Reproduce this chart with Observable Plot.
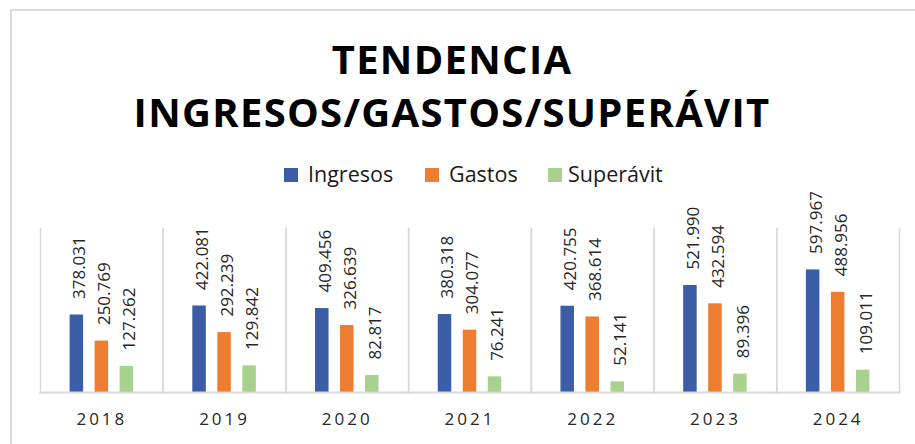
<!DOCTYPE html>
<html><head><meta charset="utf-8">
<script src="https://cdn.jsdelivr.net/npm/d3@7"></script>
<script src="https://cdn.jsdelivr.net/npm/@observablehq/plot@0.6"></script>
<style>
html,body{margin:0;padding:0;background:#fff;width:915px;height:444px;overflow:hidden;font-family:"Open Sans",sans-serif}
#border{position:absolute;left:10px;top:9px;width:1000px;height:1000px;border:2px solid #d9d9d9;box-sizing:border-box}
#title{position:absolute;left:0;top:32px;width:904px;text-align:center;font-weight:700;font-size:40px;line-height:53px;letter-spacing:1.3px;color:#000}
#legend{position:absolute;top:164px;left:0;width:915px;height:24px;font-size:21.5px;line-height:20px;color:#1a1a1a;white-space:nowrap}
.item{position:absolute;top:0;display:flex}
.sw{width:14px;height:14px;margin-top:4px}
#chart{position:absolute;left:0;top:180px}
#chart g[aria-label="fx-axis tick label"] text{letter-spacing:3px}
</style>
</head><body>
<div id="border"></div>
<div id="title">TENDENCIA<br>INGRESOS/GASTOS/SUPERÁVIT</div>
<div id="legend"></div>
<div id="chart"></div>
<script>
const years = ["2018", "2019", "2020", "2021", "2022", "2023", "2024"];
const series = ["Ingresos", "Gastos", "Superávit"];
const ingresos = [378.031, 422.081, 409.456, 380.318, 420.755, 521.990, 597.967];
const gastos = [250.769, 292.239, 326.639, 304.077, 368.614, 432.594, 488.956];
const superavit = [127.262, 129.842, 82.817, 76.241, 52.141, 89.396, 109.011];
const colors = ["#3b5da5", "#ed7d31", "#a9d18e"];

const valuesBySerie = [ingresos, gastos, superavit];
const rows = years.flatMap((year, i) =>
  series.map((serie, j) => ({year, serie, value: valuesBySerie[j][i]}))
);

// legend (layout only)
const legendLeft = [284, 425, 548];
const legendGap = [10, 10, 6];
const legend = document.getElementById("legend");
series.forEach((s, j) => {
  const item = document.createElement("div");
  item.className = "item";
  item.style.left = legendLeft[j] + "px";
  const sw = document.createElement("div");
  sw.className = "sw";
  sw.style.background = colors[j];
  sw.style.marginRight = legendGap[j] + "px";
  const lab = document.createElement("span");
  lab.textContent = s;
  item.appendChild(sw);
  item.appendChild(lab);
  legend.appendChild(item);
});

const chart = Plot.plot({
  width: 915,
  height: 264,
  marginTop: 48,
  marginBottom: 52,
  marginLeft: 40,
  marginRight: 16,
  style: {fontFamily: "Open Sans, sans-serif", background: "transparent"},
  fx: {domain: years, padding: 0, round: false, label: null},
  x: {domain: series, paddingInner: 0.46, paddingOuter: 1.184, round: false, axis: null},
  y: {domain: [0, 800], axis: null},
  color: {domain: series, range: colors},
  marks: [
    Plot.frame({anchor: "left", stroke: "#d9d9d9", strokeWidth: 1.5}),
    Plot.frame({anchor: "right", stroke: "#d9d9d9", strokeWidth: 1.5}),
    Plot.barY(rows, {fx: "year", x: "serie", y: "value", fill: "serie"}),
    Plot.frame({anchor: "bottom", stroke: "#d9d9d9", strokeWidth: 2}),
    Plot.text(rows, {
      fx: "year", x: "serie", y: "value",
      text: d => d.value.toFixed(3),
      rotate: -90, textAnchor: "start", dy: -16, dx: 3,
      fontSize: 17, fill: "#262626"
    }),
    Plot.axisFx({anchor: "bottom", tickSize: 0, tickPadding: 20, fontSize: 17, fill: "#262626", label: null})
  ]
});
document.getElementById("chart").appendChild(chart);
</script>
</body></html>
